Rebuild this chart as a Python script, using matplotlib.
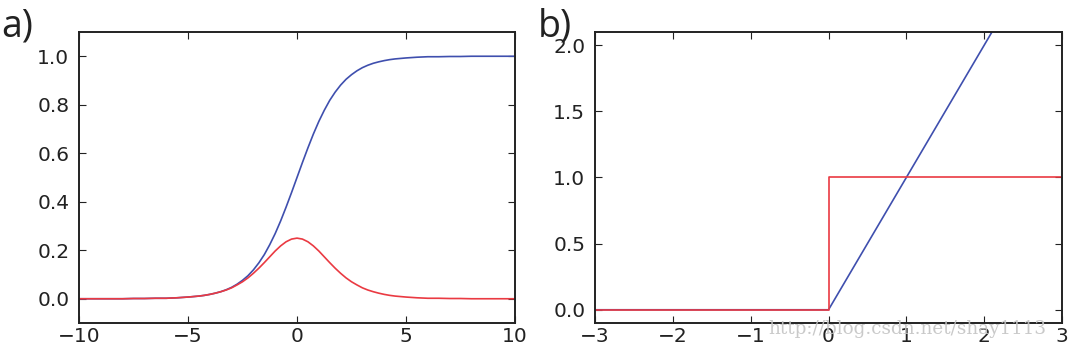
import matplotlib.pyplot as plt
import numpy as np

# ----------------- values
# a) logistic curve (blue) and its slope (red)
x_a = [-10.0, -9.5, -9.0, -8.5, -8.0, -7.5, -7.0, -6.5, -6.0, -5.5,
       -5.0, -4.75, -4.5, -4.25, -4.0, -3.75, -3.5, -3.25, -3.0, -2.75,
       -2.5, -2.25, -2.0, -1.75, -1.5, -1.25, -1.0, -0.75, -0.5, -0.25, 0.0,
       0.25, 0.5, 0.75, 1.0, 1.25, 1.5, 1.75, 2.0, 2.25, 2.5,
       2.75, 3.0, 3.25, 3.5, 3.75, 4.0, 4.25, 4.5, 4.75, 5.0,
       5.5, 6.0, 6.5, 7.0, 7.5, 8.0, 8.5, 9.0, 9.5, 10.0]
sig_a = [0.000, 0.000, 0.000, 0.000, 0.000, 0.001, 0.001, 0.002, 0.002, 0.004,
         0.007, 0.009, 0.011, 0.014, 0.018, 0.023, 0.029, 0.037, 0.047, 0.060,
         0.076, 0.095, 0.119, 0.148, 0.182, 0.223, 0.269, 0.321, 0.378, 0.438, 0.500,
         0.562, 0.622, 0.679, 0.731, 0.777, 0.818, 0.852, 0.881, 0.905, 0.924,
         0.940, 0.953, 0.963, 0.971, 0.977, 0.982, 0.986, 0.989, 0.991, 0.993,
         0.996, 0.998, 0.998, 0.999, 0.999, 1.000, 1.000, 1.000, 1.000, 1.000]
dsig_a = [0.000, 0.000, 0.000, 0.000, 0.000, 0.001, 0.001, 0.002, 0.002, 0.004,
          0.007, 0.009, 0.011, 0.014, 0.018, 0.023, 0.029, 0.036, 0.045, 0.057,
          0.070, 0.086, 0.105, 0.126, 0.149, 0.173, 0.197, 0.218, 0.235, 0.246, 0.250,
          0.246, 0.235, 0.218, 0.197, 0.173, 0.149, 0.126, 0.105, 0.086, 0.070,
          0.057, 0.045, 0.036, 0.029, 0.023, 0.018, 0.014, 0.011, 0.009, 0.007,
          0.004, 0.002, 0.002, 0.001, 0.001, 0.000, 0.000, 0.000, 0.000, 0.000]

# b) rectifier (blue) and its step slope (red)
x_relu = [-3.0, 0.0, 3.0]
y_relu = [0.0, 0.0, 3.0]
x_step = [-3.0, 0.0, 0.0, 3.0]
y_step = [0.0, 0.0, 1.0, 1.0]

yticks_a = [0.0, 0.2, 0.4, 0.6, 0.8, 1.0]
xticks_a = [-10, -5, 0, 5, 10]
yticks_b = [0.0, 0.5, 1.0, 1.5, 2.0]
xticks_b = [-3, -2, -1, 0, 1, 2, 3]

BLUE = '#3f4fae'
RED = '#ea3a42'

plt.rcParams['font.family'] = ['DejaVu Sans']
plt.rcParams['axes.linewidth'] = 1.4


def style_axes(ax):
    ax.tick_params(direction='in', length=5, width=0.8, top=True, right=True,
                   labelsize=14.5, pad=7, colors='#222222')
    ax.tick_params(axis='x', pad=3)
    for s in ax.spines.values():
        s.set_color('#222222')


def minus_labels(ticks):
    return [f'\u2212{abs(v)}' if v < 0 else str(v) for v in ticks]


fig = plt.figure(figsize=(10.71, 3.46), dpi=100)
ax1 = fig.add_axes([79/1071, 23/346, 436/1071, 291/346])
ax2 = fig.add_axes([595/1071, 23/346, 467/1071, 291/346])

ax1.plot(x_a, sig_a, color=BLUE, lw=1.2)
ax1.plot(x_a, dsig_a, color=RED, lw=1.2)
ax1.set_xlim(-10, 10)
ax1.set_ylim(-0.1, 1.1)
ax1.set_xticks(xticks_a)
ax1.set_yticks(yticks_a)
ax1.set_xticklabels(minus_labels(xticks_a))
style_axes(ax1)

ax2.plot(x_relu, y_relu, color=BLUE, lw=1.2)
ax2.plot(x_step, y_step, color=RED, lw=1.2)
ax2.set_xlim(-3, 3)
ax2.set_ylim(-0.1, 2.1)
ax2.set_xticks(xticks_b)
ax2.set_yticks(yticks_b)
ax2.set_xticklabels(minus_labels(xticks_b))
style_axes(ax2)

fig.text(1/1071, 1 - 37/346, 'a)', fontsize=27, family='Open Sans', color='#222222')
fig.text(538/1071, 1 - 37/346, 'b)', fontsize=27, family='Open Sans', color='#222222')

# faint watermark
fig.text(768/1071, 1 - 334/346, 'http://blog.csdn.net/shay1113', fontsize=13.2,
         family='DejaVu Serif', color='#c4c4c4', alpha=0.9)

fig.savefig('out.png', dpi=100)
